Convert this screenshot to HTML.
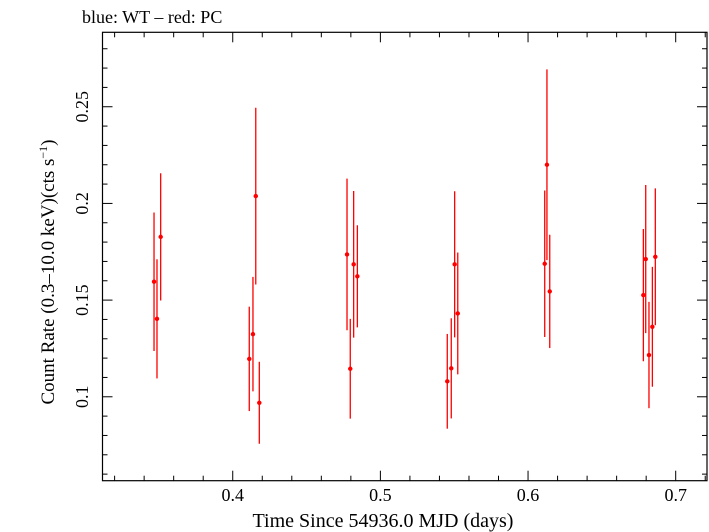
<!DOCTYPE html>
<html><head><meta charset="utf-8"><style>
body{margin:0;background:#fff}
svg{display:block;font-family:"Liberation Serif",serif}
</style></head><body>
<svg id="chart" width="709" height="532">
<text x="82" y="23" font-size="18">blue: WT – red: PC</text>
<g id="axes"></g>
<g id="marks"></g>
<text x="383" y="527" font-size="20" text-anchor="middle">Time Since 54936.0 MJD (days)</text>
<text transform="translate(54,272) rotate(-90)" font-size="19" text-anchor="middle">Count Rate (0.3–10.0 keV)(cts s<tspan dy="-7" font-size="12">−1</tspan><tspan dy="7">)</tspan></text>
</svg>
<script>
const times=[0.3467,0.3487,0.3512,0.4112,0.4137,0.4156,0.418,0.4774,0.4796,0.4819,0.4844,0.5453,0.548,0.5503,0.5524,0.6113,0.6128,0.6147,0.6781,0.6797,0.6819,0.6842,0.6862];
const rates=[0.1595,0.1403,0.1827,0.1196,0.1324,0.2038,0.0969,0.1736,0.1145,0.1685,0.1623,0.108,0.1147,0.1685,0.1431,0.1688,0.22,0.1545,0.1526,0.1712,0.1216,0.1362,0.1724];
const errors=[0.0358,0.0308,0.0329,0.027,0.0296,0.0457,0.0212,0.0392,0.0258,0.0379,0.0264,0.0245,0.0259,0.0378,0.0315,0.0379,0.0493,0.0293,0.0342,0.0383,0.0275,0.031,0.0354];
const xTicks=[0.4,0.5,0.6,0.7];
const xTickLabels=["0.4","0.5","0.6","0.7"];
const yTicks=[0.1,0.15,0.2,0.25];
const yTickLabels=["0.1","0.15","0.2","0.25"];
const L=102.5,R=707,T=32.3,B=480.7,X0=0.3118,X1=0.7212,Y0=0.0566,Y1=0.2885;
const sx=v=>L+(v-X0)/(X1-X0)*(R-L);
const sy=v=>B-(v-Y0)/(Y1-Y0)*(B-T);
const NS="http://www.w3.org/2000/svg";
const axes=document.getElementById('axes'),marks=document.getElementById('marks');
function mk(tag,at,parent){const e=document.createElementNS(NS,tag);for(const k in at)e.setAttribute(k,at[k]);parent.appendChild(e);return e;}
const frame=mk('rect',{x:L,y:T,width:R-L,height:B-T,fill:'none',stroke:'#000','stroke-width':1.2},axes);


for(let i=16;i<=72;i++){const v=i/50;if(v<X0||v>X1)continue;const major=i%5===0;const x=sx(v);const len=major?10:5;
 const t1=mk('line',{x1:x,x2:x,y1:B,y2:B-len,stroke:'#000','stroke-width':1},axes);
 
 
 const t2=mk('line',{x1:x,x2:x,y1:T,y2:T+len,stroke:'#000','stroke-width':1},axes);
 
 }
for(let i=6;i<=28;i++){const v=i/100;if(v<Y0||v>Y1)continue;const major=i%5===0;const y=sy(v);const len=major?10:5;
 const t1=mk('line',{x1:L,x2:L+len,y1:y,y2:y,stroke:'#000','stroke-width':1},axes);
 
 
 const t2=mk('line',{x1:R,x2:R-len,y1:y,y2:y,stroke:'#000','stroke-width':1},axes);
 
 }
xTicks.forEach((v,i)=>{const t=mk('text',{x:sx(v),y:501,'font-size':18,'text-anchor':'middle'},axes);t.textContent=xTickLabels[i];
 
 });
yTicks.forEach((v,i)=>{const t=mk('text',{transform:`translate(88,${sy(v)}) rotate(-90)`,'font-size':18,'text-anchor':'middle'},axes);t.textContent=yTickLabels[i];
 
 });
times.forEach((t,i)=>{const x=sx(t),y=sy(rates[i]);
 const e=mk('line',{x1:x,x2:x,y1:sy(rates[i]+errors[i]),y2:sy(rates[i]-errors[i]),stroke:'#f00','stroke-width':1.3},marks);
 
 
 const h=mk('line',{x1:x-2,x2:x+2,y1:y,y2:y,stroke:'#f00','stroke-width':1.3},marks);
 
 
 const c=mk('circle',{cx:x,cy:y,r:2.2,fill:'#f00'},marks);
 
 });
</script>
</body></html>
